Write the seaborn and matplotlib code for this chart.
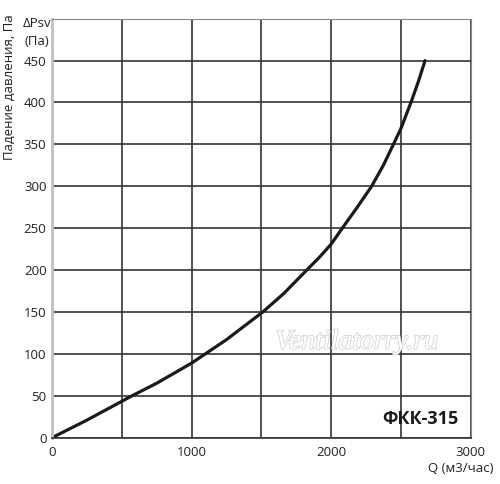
import numpy as np
import pandas as pd
import matplotlib
matplotlib.use("Agg")
import matplotlib.pyplot as plt
import matplotlib.patheffects as pe
import seaborn as sns

# values
flow = [0, 250, 573, 750, 1000, 1098, 1250, 1510, 1660, 1825, 1920, 2000, 2080, 2187,
        2290, 2374, 2446, 2500, 2572, 2625, 2673]
pressure = [0, 21, 50, 65, 89, 100, 117, 150, 172, 200, 216, 231, 250, 275,
            300, 325, 350, 369, 400, 425, 450]
x_ticks = [0, 500, 1000, 1500, 2000, 2500, 3000]
x_labels = ["0", "", "1000", "", "2000", "", "3000"]
y_ticks = [0, 50, 100, 150, 200, 250, 300, 350, 400, 450]

sns.set_style("white")
plt.rcParams['font.family'] = ['Open Sans', 'DejaVu Sans']

df = pd.DataFrame({"Q": flow, "dP": pressure})

fig = plt.figure(figsize=(5.0, 4.84), dpi=100)
ax = fig.add_axes([0.104, 0.0956, 0.8374, 0.8658])

sns.lineplot(data=df, x="Q", y="dP", ax=ax, color="#1a1a1a", lw=2.3)

ax.set_xlim(0, 3000)
ax.set_ylim(0, 500)
ax.set_xticks(x_ticks)
ax.set_xticklabels(x_labels)
ax.set_yticks(y_ticks)
ax.tick_params(axis="both", length=0, labelsize=9.5, colors="#222222")
ax.tick_params(axis="x", pad=6)
ax.tick_params(axis="y", pad=4)
ax.grid(True, color="#333333", lw=1.2)
ax.set_axisbelow(True)
ax.set_xlabel("")
ax.set_ylabel("")

ax.spines["left"].set_color("#c0c0c0")
ax.spines["left"].set_linewidth(2)
ax.spines["top"].set_color("#888888")
ax.spines["right"].set_color("#888888")
ax.spines["bottom"].set_color("#333333")
ax.spines["bottom"].set_linewidth(1.2)

fig.text(0.018, 0.82, "Падение давления, Па", rotation=90, ha="center", va="center",
         fontsize=9.5, color="#222222")
fig.text(0.074, 0.952, "ΔPsv", ha="center", va="center", fontsize=9.5, color="#222222")
fig.text(0.074, 0.915, "(Па)", ha="center", va="center", fontsize=9.5, color="#222222")
fig.text(0.988, 0.033, "Q (м3/час)", ha="right", va="center", fontsize=9.5, color="#222222")

ax.text(2916, 22, "ФКК-315", ha="right", va="center", fontsize=13, fontweight="bold",
        color="#1a1a1a")
ax.text(2182, 114, "Ventilatorry.ru", ha="center", va="center", fontsize=20,
        style="italic", family="Liberation Serif", color="white",
        path_effects=[pe.withStroke(linewidth=1.2, foreground="#d4d4d4")])

fig.savefig("out.png", dpi=100)
